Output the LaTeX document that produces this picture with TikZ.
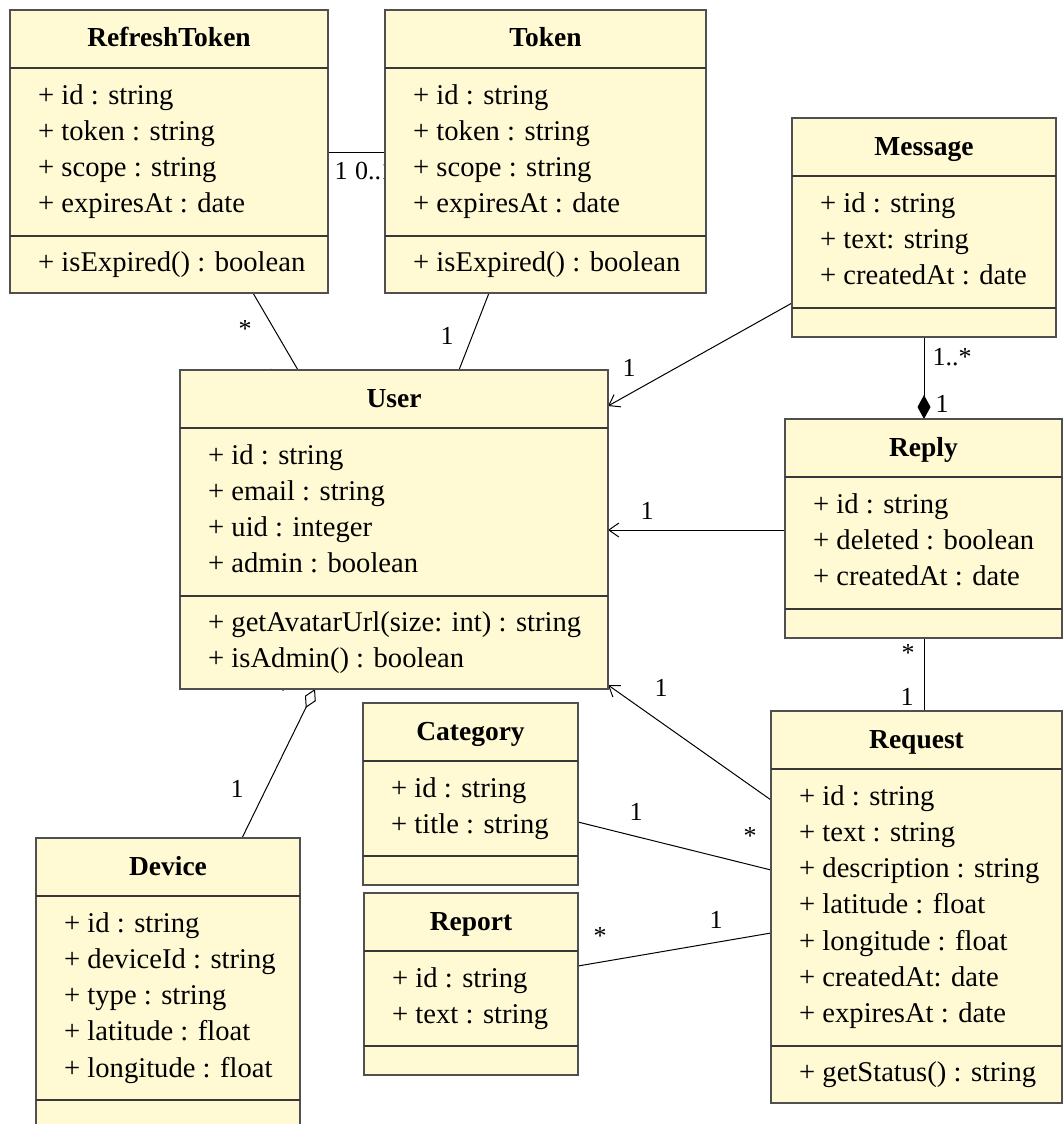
\documentclass[tikz,border=0pt]{standalone}
\usepackage{fontspec}
\setmainfont{Liberation Serif}
\usetikzlibrary{arrows.meta}
\pgfdeclarelayer{bg}
\pgfsetlayers{bg,main}
\definecolor{clsfill}{RGB}{255,250,212}
\definecolor{clsline}{RGB}{80,80,80}
\tikzset{
  cls/.style={draw=clsline, fill=clsfill, line width=1.5pt, inner sep=0pt, outer sep=0pt},
  sepl/.style={draw=clsline!70!black, line width=1.3pt},
  ttl/.style={anchor=base, inner sep=0pt, font=\fontsize{27.5}{32}\selectfont\bfseries},
  attr/.style={anchor=base west, inner sep=0pt, font=\fontsize{28.6}{32}\selectfont},
  mult/.style={inner sep=0pt, font=\fontsize{26}{30}\selectfont},
  assoc/.style={draw=black, line width=1pt},
  navarrow/.style={assoc, -{Straight Barb[length=10pt,width=14pt]}},
  compos/.style={assoc, -{Diamond[length=24pt,width=13pt]}},
  aggreg/.style={assoc, {Diamond[open,length=21pt,width=12pt]}-},
}
% name, left, top, right, bottom, sep2, title, attributes, methods
\newcommand{\umlclass}[9]{%
  \node[cls, anchor=north west, minimum width={#4pt-#2pt}, minimum height={#5pt-#3pt}] (#1) at (#2,#3) {};
  \pgfmathsetmacro{\ucx}{(#2+#4)/2}%
  \pgfmathsetmacro{\uty}{#3+37}%
  \pgfmathsetmacro{\usa}{#3+58}%
  \pgfmathsetmacro{\utx}{#2+28}%
  \node[ttl] (#1-title) at (\ucx,\uty) {#7};
  \draw[sepl] (#1.west |- 0,\usa) -- (#1.east |- 0,\usa);
  \draw[sepl] (#1.west |- 0,#6) -- (#1.east |- 0,#6);
  \foreach \t [count=\i] in {#8} {\node[attr] (#1-a\i) at (\utx,{#3+94+(\i-1)*36.3}) {\t};}
  \foreach \t [count=\i] in {#9} {\node[attr] (#1-m\i) at (\utx,{#6+35+(\i-1)*36}) {\t};}
}
\begin{document}
\begin{tikzpicture}[x=1pt,y=-1pt]
\useasboundingbox (0,0) rectangle (1063,1124);
\clip (0,0) rectangle (1063,1124);

\umlclass{rt}{10}{10}{328}{293}{236}{RefreshToken}
  {{+ id : string},{+ token : string},{+ scope : string},{+ expiresAt : date}}
  {{+ isExpired() : boolean}}
\umlclass{token}{385}{10}{706}{293}{236}{Token}
  {{+ id : string},{+ token : string},{+ scope : string},{+ expiresAt : date}}
  {{+ isExpired() : boolean}}
\umlclass{msg}{792}{118}{1056}{337}{308}{Message}
  {{+ id : string},{+ text: string},{+ createdAt : date}}
  {}
\umlclass{reply}{785}{419}{1062}{638}{609}{Reply}
  {{+ id : string},{+ deleted : boolean},{+ createdAt : date}}
  {}
\umlclass{user}{180}{370}{608}{689}{596}{User}
  {{+ id : string},{+ email : string},{+ uid : integer},{+ admin : boolean}}
  {{+ getAvatarUrl(size: int) : string},{+ isAdmin() : boolean}}
\umlclass{cat}{363}{703}{578}{885}{856}{Category}
  {{+ id : string},{+ title : string}}
  {}
\umlclass{rep}{364}{893}{578}{1075}{1046}{Report}
  {{+ id : string},{+ text : string}}
  {}
\umlclass{dev}{36}{838}{300}{1135}{1100}{Device}
  {{+ id : string},{+ deviceId : string},{+ type : string},{+ latitude : float},{+ longitude : float}}
  {}
\umlclass{req}{771}{711}{1062}{1103}{1046}{Request}
  {{+ id : string},{+ text : string},{+ description : string},{+ latitude : float},{+ longitude : float},{+ createdAt: date},{+ expiresAt : date}}
  {{+ getStatus() : string}}

\begin{pgfonlayer}{bg}
  % RefreshToken -- Token
  \draw[assoc] (rt.east |- 0,152) -- (token.west |- 0,152);
  \node[mult] (l-rt-t1) at (341,171) {1};
  \node[mult, anchor=west] (l-rt-t2) at (355,171) {0..1};
  % RefreshToken -- User
  \draw[assoc] (rt.south -| 253,0) -- (user.north -| 298,0);
  \node[mult] (l-rt-u1) at (245,329) {*};
  \node[mult] (l-rt-u2) at (270,378) {1};
  % Token -- User
  \draw[assoc] (token.south -| 489,0) -- (user.north -| 459,0);
  \node[mult] (l-tk-u) at (447,336) {1};
  % Message -> User
  \draw[navarrow] (msg.west |- 0,303) -- (user.east |- 0,406);
  \node[mult] (l-msg-u) at (629,368) {1};
  % Message -- Reply (composition)
  \draw[compos] (msg.south -| 924,0) -- (reply.north -| 924,0);
  \node[mult] (l-msg-r1) at (952,357) {1..*};
  \node[mult] (l-msg-r2) at (942,404) {1};
  % Reply -> User
  \draw[navarrow] (reply.west |- 0,530) -- (user.east |- 0,530);
  \node[mult] (l-rep-u) at (647,511) {1};
  % User <>-- Device
  \draw[aggreg] (user.south -| 315,0) -- (dev.north -| 242,0);
  \node[mult] (l-u-d1) at (283,690) {*};
  \node[mult] (l-u-d2) at (237,789) {1};
  % Reply -- Request
  \draw[assoc] (reply.south -| 924,0) -- (req.north -| 924,0);
  \node[mult] (l-r-q1) at (908,653) {*};
  \node[mult] (l-r-q2) at (907,697) {1};
  % Request -> User
  \draw[navarrow] (req.west |- 0,800) -- (user.east |- 0,685);
  \node[mult] (l-q-u) at (661,688) {1};
  % Category -- Request
  \draw[assoc] (cat.east |- 0,822) -- (req.west |- 0,870);
  \node[mult] (l-c-q1) at (636,812) {1};
  \node[mult] (l-c-q2) at (750,836) {*};
  % Report -- Request
  \draw[assoc] (rep.east |- 0,966) -- (req.west |- 0,933);
  \node[mult] (l-p-q1) at (600,936) {*};
  \node[mult] (l-p-q2) at (716,920) {1};
\end{pgfonlayer}
\end{tikzpicture}
\end{document}
